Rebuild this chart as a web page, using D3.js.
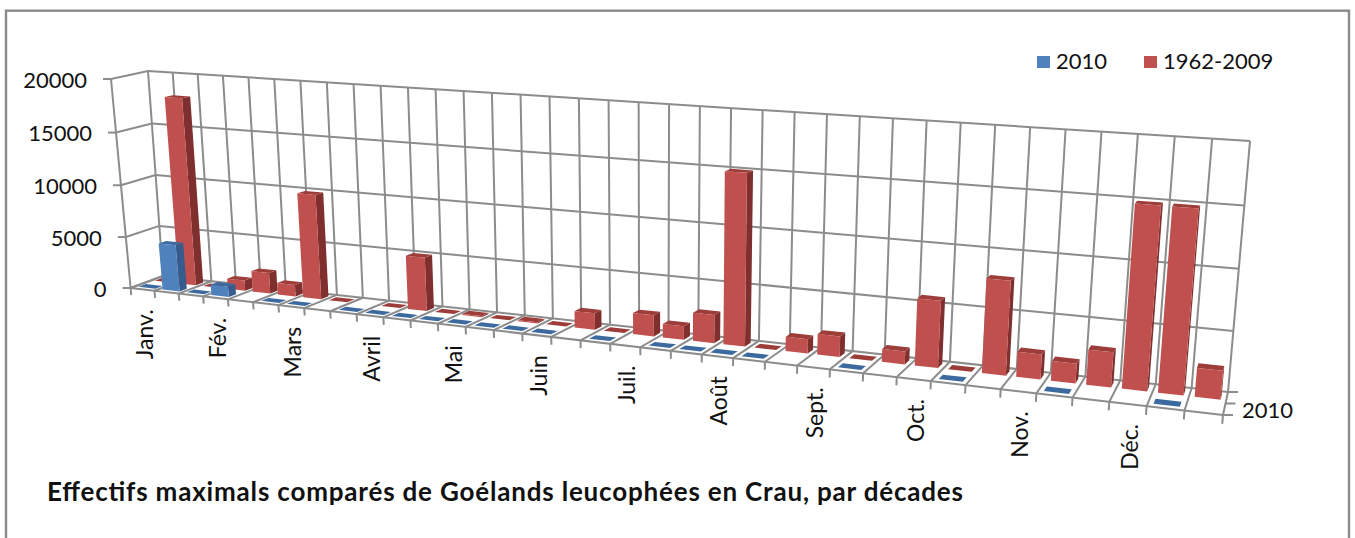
<!DOCTYPE html>
<html lang="fr">
    <head>
        <meta charset="utf-8">
        <title>Effectifs maximals de Goélands leucophées</title>
        <script src="https://d3js.org/d3.v7.min.js"></script>
        <style>
            html, body { margin: 0; padding: 0; background: #fff; }
            svg { display: block; }
            text { font-family: Lato, "Open Sans", sans-serif; fill: #111; }
        </style>
    </head>
    <body>
        <script>
            // Donnees (3 decades par mois)
            var months = ["Janv.", "Fév.", "Mars", "Avril", "Mai", "Juin", "Juil.", "Août", "Sept.", "Oct.", "Nov.", "Déc."];
            var seriesNames = ["2010", "1962-2009"];
            var valueTicks = [0, 5000, 10000, 15000, 20000];
            var values2010 = [0, 4500, 0, 1000, null, 0, 0, null, 0, 0, 0, 0, 0, 0, 0, 0, null, 0, null, 0, 0, 0, 0, null, null, 0, null, null, 0, null, null, 0, null, null, 0, null];
            var values1962 = [0, 18000, 0, 1000, 2000, 1100, 9900, 0, null, 0, 5000, 0, 100, 0, 100, 0, 1500, 0, 1900, 1200, 2500, 15000, 0, 1250, 1800, 0, 1100, 5700, 0, 7900, 2100, 1650, 2900, 14900, 14900, 2350];

            var w = 1355;
            var h = 538;

            var svg = d3.select("body").append("svg")
                .attr("width", w)
                .attr("height", h);

            // Coins du plan arriere et du plan avant : [bas-g, bas-d, haut-d, haut-g]
            var backQuad = [[163, 276], [1228, 392], [1250, 141], [148, 71]];
            var frontQuad = [[130.6, 288], [1223, 415], [1246, 151], [111, 79]];

            // Homographie du carre unite vers un quadrilatere
            function quadMap(q) {
                var x0 = q[0][0], y0 = q[0][1], x1 = q[1][0], y1 = q[1][1];
                var x2 = q[2][0], y2 = q[2][1], x3 = q[3][0], y3 = q[3][1];
                var dx1 = x1 - x2, dx2 = x3 - x2, sx = x0 - x1 + x2 - x3;
                var dy1 = y1 - y2, dy2 = y3 - y2, sy = y0 - y1 + y2 - y3;
                var den = dx1 * dy2 - dx2 * dy1;
                var g = (sx * dy2 - dx2 * sy) / den;
                var k = (dx1 * sy - sx * dy1) / den;
                var a = x1 - x0 + g * x1, b = x3 - x0 + k * x3;
                var d = y1 - y0 + g * y1, e = y3 - y0 + k * y3;
                return function(u, v) {
                    var t = g * u + k * v + 1;
                    return [(a * u + b * v + x0) / t, (d * u + e * v + y0) / t];
                };
            }

            var backMap = quadMap(backQuad);
            var frontMap = quadMap(frontQuad);

            var catScale = d3.scaleLinear().domain([0, values1962.length]).range([0, 1]);
            var valScale = d3.scaleLinear().domain([0, 20000]).range([0, 1]);

            // cat = position en decades, depth = 0 devant, 1 au fond
            function project(cat, depth, val) {
                var f = frontMap(catScale(cat), valScale(val));
                var b = backMap(catScale(cat), valScale(val));
                return [f[0] + (b[0] - f[0]) * depth, f[1] + (b[1] - f[1]) * depth];
            }

            var path = d3.line();
            var gridColor = "#8c8c8c";

            function addLine(g, a, b) {
                g.append("path")
                    .attr("d", path([a, b]))
                    .attr("fill", "none")
                    .attr("stroke", gridColor)
                    .attr("stroke-width", 2);
            }

            // Cadre
            svg.append("rect")
                .attr("x", 6).attr("y", 10.7)
                .attr("width", 1343).attr("height", 540)
                .attr("fill", "#fff")
                .attr("stroke", "#8a8a8a")
                .attr("stroke-width", 2.4);

            var grid = svg.append("g");
            var nCat = values1962.length;

            // Parois : lignes de valeurs
            valueTicks.forEach(function(t) {
                addLine(grid, project(0, 1, t), project(nCat, 1, t));
                addLine(grid, project(0, 0, t), project(0, 1, t));
                var p = project(0, 0, t);
                addLine(grid, [p[0] - 8, p[1]], p);
                svg.append("text")
                    .attr("x", p[0] - 24)
                    .attr("y", p[1] + 8.5)
                    .attr("text-anchor", "end")
                    .attr("font-size", 22)
                    .text(t);
            });

            // Parois et sol : lignes de categories
            d3.range(nCat + 1).forEach(function(i) {
                addLine(grid, project(i, 1, 0), project(i, 1, 20000));
                addLine(grid, project(i, 0, 0), project(i, 1, 0));
                addLine(grid, project(i, 0, 0), project(i, 0, -700));
            });
            addLine(grid, project(0, 0, 0), project(0, 0, 20000));
            addLine(grid, project(0, 0, 0), project(nCat, 0, 0));

            // Graduations de profondeur a droite
            [0, 0.5, 1].forEach(function(d) {
                var p = project(nCat, d, 0);
                addLine(grid, p, [p[0] + 10, p[1]]);
            });

            // Barres
            var barPad = 0.15;
            var barDepth = 0.11;

            function drawSeries(values, centerDepth, colors) {
                var g = svg.append("g");
                values.forEach(function(val, i) {
                    if (val === null) return;
                    var x0 = i + barPad, x1 = i + 1 - barPad;
                    var d0 = centerDepth - barDepth, d1 = centerDepth + barDepth;
                    var top = [project(x0, d0, val), project(x1, d0, val), project(x1, d1, val), project(x0, d1, val)];
                    g.append("path")
                        .attr("d", path([project(x1, d0, 0), project(x1, d1, 0), project(x1, d1, val), project(x1, d0, val)]) + "Z")
                        .attr("fill", colors.side);
                    g.append("path")
                        .attr("d", path(top) + "Z")
                        .attr("fill", colors.top);
                    g.append("path")
                        .attr("d", path([project(x0, d0, 0), project(x1, d0, 0), project(x1, d0, val), project(x0, d0, val)]) + "Z")
                        .attr("fill", colors.front);
                });
            }

            drawSeries(values1962, 0.75, {front: "#c0504d", side: "#7f2f2d", top: "#9c3d3a"});
            drawSeries(values2010, 0.25, {front: "#4f81bd", side: "#355c8c", top: "#3c6a9f"});

            // Etiquettes des mois (une decade sur trois)
            months.forEach(function(m, i) {
                var p = project(i * 3 + 0.5, 0, 0);
                svg.append("text")
                    .attr("transform", "translate(" + (p[0] + 10) + "," + (p[1] + 20) + ") rotate(-90)")
                    .attr("text-anchor", "end")
                    .attr("font-size", 23)
                    .text(m);
            });

            var last = project(nCat, 0, 0);
            svg.append("text")
                .attr("x", last[0] + 19)
                .attr("y", last[1] + 3)
                .attr("font-size", 22)
                .text(seriesNames[0]);

            // Legende
            var legendColors = ["#4f81bd", "#c0504d"];
            var legendX = [1037, 1144];
            seriesNames.forEach(function(name, i) {
                svg.append("rect")
                    .attr("x", legendX[i]).attr("y", 56)
                    .attr("width", 13).attr("height", 12)
                    .attr("fill", legendColors[i]);
                svg.append("text")
                    .attr("x", legendX[i] + 19)
                    .attr("y", 69)
                    .attr("font-size", 22)
                    .text(name);
            });

            // Titre
            svg.append("text")
                .attr("x", 47)
                .attr("y", 501)
                .attr("font-size", 26)
                .attr("font-weight", 700)
                .attr("textLength", 916)
                .attr("lengthAdjust", "spacing")
                .text("Effectifs maximals comparés de Goélands leucophées en Crau, par décades");
        </script>
    </body>
</html>
